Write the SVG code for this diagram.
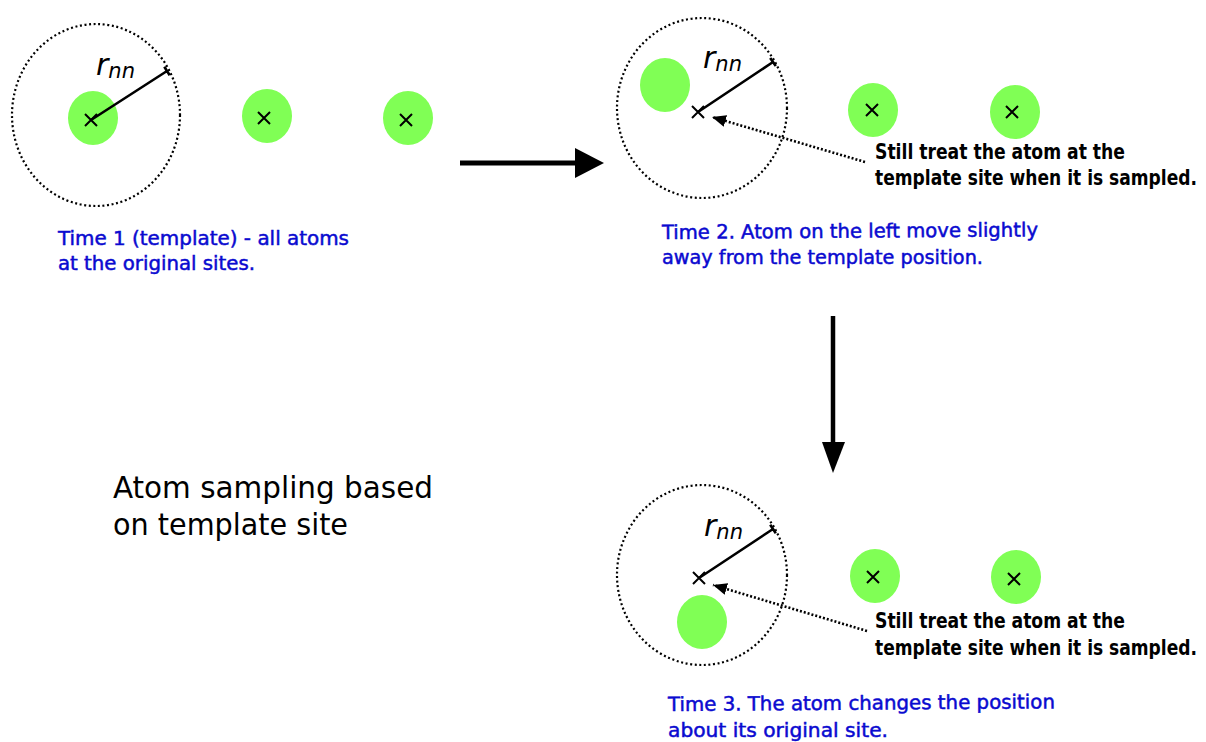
<svg xmlns="http://www.w3.org/2000/svg" width="1206" height="742" viewBox="0 0 1206 742">
<style>
.site{fill:none;stroke:#000;stroke-width:2.2;stroke-dasharray:2 2.6}
.atom{fill:#80ff55}
.mk{stroke:#000;stroke-width:2;fill:none}
.rad{stroke:#000;stroke-width:2.6;fill:none}
.dot{stroke:#000;stroke-width:2.6;stroke-dasharray:2 2;fill:none}
.big{stroke:#000;fill:none}
.cap{font-family:"DejaVu Sans Condensed","DejaVu Sans","Liberation Sans",sans-serif;font-size:19.5px;fill:#0a0ad0;stroke:#0a0ad0;stroke-width:0.45}
.note{font-family:"DejaVu Sans Condensed","DejaVu Sans","Liberation Sans",sans-serif;font-size:22px;font-weight:bold;fill:#000}
.title{font-family:"DejaVu Sans Condensed","DejaVu Sans","Liberation Sans",sans-serif;font-size:31px;fill:#000}
.r{font-family:"DejaVu Sans","Liberation Sans",sans-serif;font-style:italic;fill:#000}
</style>
<defs>
<g id="x"><path class="mk" d="M-6,-6L6,6M6,-6L-6,6"/></g>
<marker id="ah" viewBox="0 0 14 12" refX="14" refY="6" markerWidth="14" markerHeight="12" markerUnits="userSpaceOnUse" orient="auto"><path d="M0,0L14,6L0,12z" fill="#000"/></marker>
</defs>

<g id="panel1">
<ellipse class="site" cx="96" cy="115" rx="84" ry="91"/>
<ellipse class="atom" cx="93" cy="118" rx="25" ry="27"/>
<use href="#x" x="91" y="120"/>
<ellipse class="atom" cx="267" cy="116" rx="25" ry="27"/>
<use href="#x" x="264" y="118"/>
<ellipse class="atom" cx="408" cy="118" rx="25" ry="27"/>
<use href="#x" x="406" y="120"/>
<path class="rad" d="M91,120L167,71M164.3,66.8L169.7,75.2"/>
<text class="r" x="96" y="75"><tspan font-size="30">r</tspan><tspan font-size="21" dy="3">nn</tspan></text>
<text class="cap" x="58" y="245" textLength="291" lengthAdjust="spacingAndGlyphs">Time 1 (template) - all atoms</text>
<text class="cap" x="58" y="270" textLength="197" lengthAdjust="spacingAndGlyphs">at the original sites.</text>
</g>

<g id="panel2">
<ellipse class="site" cx="702" cy="108" rx="85" ry="90"/>
<ellipse class="atom" cx="665" cy="85" rx="25" ry="27"/>
<use href="#x" x="698" y="112"/>
<ellipse class="atom" cx="873" cy="110" rx="25" ry="27"/>
<use href="#x" x="872" y="110"/>
<ellipse class="atom" cx="1015" cy="112" rx="25" ry="27"/>
<use href="#x" x="1012" y="112"/>
<path class="rad" d="M698,112L773,62M770.2,57.9L775.8,66.1"/>
<text class="r" x="703" y="68"><tspan font-size="30">r</tspan><tspan font-size="21" dy="3">nn</tspan></text>
<text class="note" x="875" y="159" textLength="250" lengthAdjust="spacingAndGlyphs">Still treat the atom at the</text>
<text class="note" x="875" y="185" textLength="322" lengthAdjust="spacingAndGlyphs">template site when it is sampled.</text>
<text class="cap" x="662" y="239" textLength="376" lengthAdjust="spacingAndGlyphs" transform="rotate(-0.4 662 239)">Time 2. Atom on the left move slightly</text>
<text class="cap" x="662" y="264" textLength="321" lengthAdjust="spacingAndGlyphs">away from the template position.</text>
</g>

<g id="panel3">
<ellipse class="site" cx="702" cy="575" rx="85" ry="90"/>
<ellipse class="atom" cx="702" cy="622" rx="25" ry="27"/>
<use href="#x" x="699" y="578"/>
<ellipse class="atom" cx="875" cy="576" rx="25" ry="27"/>
<use href="#x" x="873" y="577"/>
<ellipse class="atom" cx="1016" cy="577" rx="25" ry="27"/>
<use href="#x" x="1014" y="579"/>
<path class="rad" d="M699,578L773,529M770.2,524.8L775.8,533.2"/>
<text class="r" x="704" y="536"><tspan font-size="30">r</tspan><tspan font-size="21" dy="3">nn</tspan></text>
<text class="note" x="875" y="628" textLength="250" lengthAdjust="spacingAndGlyphs">Still treat the atom at the</text>
<text class="note" x="875" y="655" textLength="322" lengthAdjust="spacingAndGlyphs">template site when it is sampled.</text>
<text class="cap" x="668" y="711" textLength="387" lengthAdjust="spacingAndGlyphs" transform="rotate(-0.4 668 711)">Time 3. The atom changes the position</text>
<text class="cap" x="668" y="737" textLength="220" lengthAdjust="spacingAndGlyphs">about its original site.</text>
</g>

<g id="title">
<text class="title" x="113" y="498" textLength="320" lengthAdjust="spacingAndGlyphs">Atom sampling based</text>
<text class="title" x="113" y="535" textLength="235" lengthAdjust="spacingAndGlyphs">on template site</text>
</g>

<g id="connectors">
<line class="big" x1="460" y1="163" x2="576" y2="163" stroke-width="5"/>
<polygon points="575,148 604,163 575,178" fill="#000"/>
<line class="big" x1="833" y1="316" x2="833" y2="443" stroke-width="4.5"/>
<polygon points="822,442 845,442 833,473" fill="#000"/>
<line class="dot" x1="865" y1="162" x2="712" y2="117" marker-end="url(#ah)"/>
<line class="dot" x1="867" y1="631" x2="713" y2="585" marker-end="url(#ah)"/>
</g>
</svg>
